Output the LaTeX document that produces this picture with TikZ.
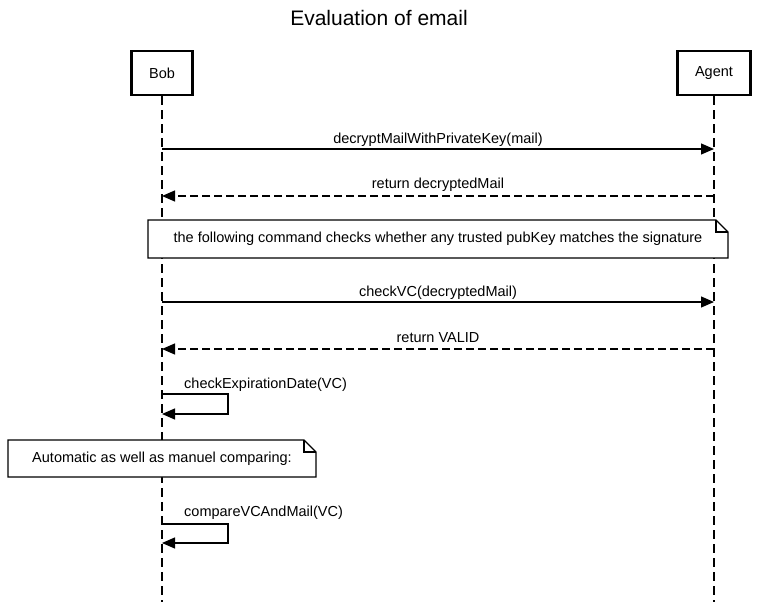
\documentclass[tikz,border=0pt]{standalone}
\usepackage{fontspec}
\setmainfont{Liberation Sans}
\usetikzlibrary{arrows.meta}
\begin{document}
\begin{tikzpicture}[x=1pt,y=-1pt,
  font=\fontsize{14.5}{17}\selectfont,
  actor/.style={draw,line width=2.5pt,fill=white,minimum width=61pt,minimum height=44pt,inner sep=0pt},
  lifeline/.style={line width=1.2pt,dash pattern=on 9pt off 5pt},
  msg/.style={line width=1.2pt,-{Triangle[length=13pt,width=11pt]}},
  ret/.style={msg,dash pattern=on 8pt off 4pt},
  lbl/.style={inner sep=0pt,anchor=base},
  note/.style={line width=1.2pt},
  notetext/.style={inner sep=0pt}]
\useasboundingbox (0,0) rectangle (758,602);
\node[font=\fontsize{21}{24}\selectfont] (title) at (379,18) {Evaluation of email};
\node[actor] (bob) at (162,73) {Bob};
\node[actor,minimum width=73pt] (agent) at (714,73) {Agent};
\coordinate (bobend) at (162,602);
\coordinate (agentend) at (714,602);
\draw[lifeline] (bob.south) -- (bobend);
\draw[lifeline] (agent.south) -- (agentend);
% messages
\coordinate (b1) at (162,149); \coordinate (a1) at (714,149);
\draw[msg] (b1) -- (a1);
\node[lbl] (l1) at (438,143) {decryptMailWithPrivateKey(mail)};
\coordinate (b2) at (162,196); \coordinate (a2) at (714,196);
\draw[ret] (a2) -- (b2);
\node[lbl] (l2) at (438,188) {return decryptedMail};
% note 1
\draw[note,fill=white] (148,220) -- (716,220) -- (728,232) -- (728,258) -- (148,258) -- cycle;
\draw[note] (716,220) -- (716,232) -- (728,232);
\node[notetext] (n1) at (438,239) {the following command checks whether any trusted pubKey matches the signature};
\coordinate (b3) at (162,302); \coordinate (a3) at (714,302);
\draw[msg] (b3) -- (a3);
\node[lbl] (l3) at (438,296) {checkVC(decryptedMail)};
\coordinate (b4) at (162,349); \coordinate (a4) at (714,349);
\draw[ret] (a4) -- (b4);
\node[lbl] (l4) at (438,342) {return VALID};
% self message 1
\coordinate (s1a) at (162,394); \coordinate (s1b) at (162,414);
\draw[msg] (s1a) -- (228,394) -- (228,414) -- (s1b);
\node[lbl,anchor=base west] (l5) at (184,388) {checkExpirationDate(VC)};
% note 2
\draw[note,fill=white] (8,440) -- (304,440) -- (316,452) -- (316,477) -- (8,477) -- cycle;
\draw[note] (304,440) -- (304,452) -- (316,452);
\node[notetext] (n2) at (162,459) {Automatic as well as manuel comparing:};
% self message 2
\coordinate (s2a) at (162,524); \coordinate (s2b) at (162,543);
\draw[msg] (s2a) -- (228,524) -- (228,543) -- (s2b);
\node[lbl,anchor=base west] (l6) at (184,516) {compareVCAndMail(VC)};
\end{tikzpicture}
\end{document}
